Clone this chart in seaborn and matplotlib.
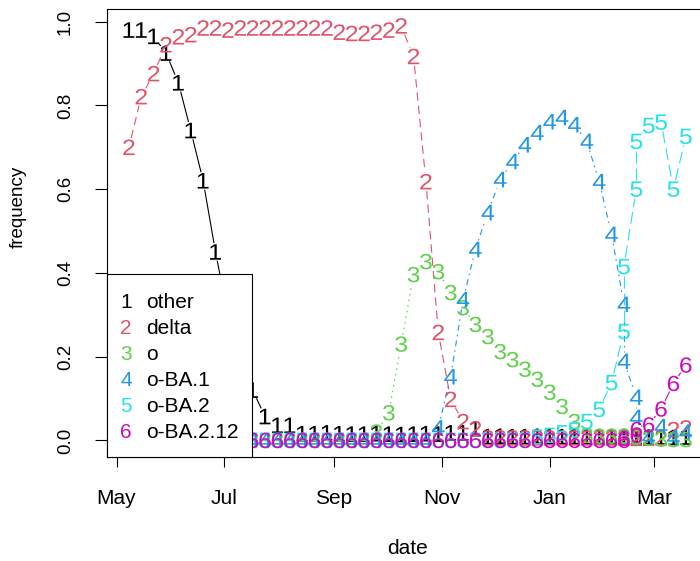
import numpy as np
import pandas as pd
import matplotlib
matplotlib.use("Agg")
import matplotlib.pyplot as plt
import matplotlib.dates as mdates
from matplotlib.markers import MarkerStyle
from matplotlib.transforms import Affine2D
from matplotlib.patches import Rectangle
import seaborn as sns

# ---------------- data ----------------
dates = [
    "2021-05-08", "2021-05-15", "2021-05-22", "2021-05-29", "2021-06-05", "2021-06-12",
    "2021-06-19", "2021-06-26", "2021-07-03", "2021-07-10", "2021-07-17", "2021-07-24",
    "2021-07-31", "2021-08-07", "2021-08-14", "2021-08-21", "2021-08-28", "2021-09-04",
    "2021-09-11", "2021-09-18", "2021-09-25", "2021-10-02", "2021-10-09", "2021-10-16",
    "2021-10-23", "2021-10-30", "2021-11-06", "2021-11-13", "2021-11-20", "2021-11-27",
    "2021-12-04", "2021-12-11", "2021-12-18", "2021-12-25", "2022-01-01", "2022-01-08",
    "2022-01-15", "2022-01-22", "2022-01-29", "2022-02-05", "2022-02-12", "2022-02-12",
    "2022-02-19", "2022-02-19", "2022-02-26", "2022-03-05", "2022-03-12", "2022-03-19",
]

other = [0.98, 0.98, 0.965, 0.925, 0.854, 0.74, 0.62, 0.45, 0.30, 0.20, 0.12, 0.057,
         0.036, 0.036, 0.016, 0.016, 0.018, 0.016, 0.015, 0.015, 0.016, 0.015, 0.014, 0.015,
         0.016, 0.015, 0.018, 0.018, 0.028, 0.009, 0.01, 0.009, 0.009, 0.01, 0.009, 0.009,
         0.009, 0.008, 0.009, 0.009, 0.009, 0.009, 0.008, 0.008, 0.008, 0.008, 0.007, 0.008]

delta = [0.70, 0.821, 0.876, 0.945, 0.964, 0.969, 0.985, 0.985, 0.98, 0.985, 0.985, 0.985,
         0.985, 0.985, 0.985, 0.985, 0.985, 0.975, 0.972, 0.972, 0.975, 0.98, 0.99, 0.917,
         0.618, 0.258, 0.098, 0.045, 0.028, 0.006, 0.006, 0.006, 0.006, 0.006, 0.006, 0.006,
         0.006, 0.006, 0.006, 0.006, 0.006, 0.006, 0.005, 0.005, 0.005, 0.006, 0.026, 0.03]

omicron = [0.0, 0.0, 0.0, 0.0, 0.0, 0.0, 0.0, 0.0, 0.0, 0.0, 0.0, 0.0,
           0.0, 0.0, 0.0, 0.0, 0.0, 0.0, 0.0, 0.0, 0.02, 0.066, 0.23, 0.396,
           0.427, 0.403, 0.353, 0.317, 0.277, 0.248, 0.212, 0.193, 0.17, 0.146, 0.115, 0.081,
           0.045, 0.012, 0.01, 0.01, 0.01, 0.01, 0.008, 0.008, 0.005, 0.003, 0.002, 0.002]

ba1 = [0.0, 0.0, 0.0, 0.0, 0.0, 0.0, 0.0, 0.0, 0.0, 0.0, 0.0, 0.0,
       0.0, 0.0, 0.0, 0.0, 0.0, 0.0, 0.0, 0.0, 0.0, 0.0, 0.0, 0.0,
       0.0, 0.03, 0.152, 0.336, 0.456, 0.544, 0.623, 0.666, 0.706, 0.735, 0.761, 0.771,
       0.754, 0.714, 0.618, 0.492, 0.325, 0.189, 0.103, 0.055, 0.008, 0.033, 0.007, 0.02]

ba2 = [0.0, 0.0, 0.0, 0.0, 0.0, 0.0, 0.0, 0.0, 0.0, 0.0, 0.0, 0.0,
       0.0, 0.0, 0.0, 0.0, 0.0, 0.0, 0.0, 0.0, 0.0, 0.0, 0.0, 0.0,
       0.0, 0.0, 0.0, 0.0, 0.0, 0.0, 0.0, 0.0, 0.0, 0.008, 0.012, 0.018,
       0.025, 0.045, 0.074, 0.138, 0.26, 0.415, 0.6, 0.714, 0.752, 0.76, 0.6, 0.726]

ba212 = [0.0, 0.0, 0.0, 0.0, 0.0, 0.0, 0.0, 0.0, 0.0, 0.0, 0.0, 0.0,
         0.0, 0.0, 0.0, 0.0, 0.0, 0.0, 0.0, 0.0, 0.0, 0.0, 0.0, 0.0,
         0.0, 0.0, 0.0, 0.0, 0.0, 0.0, 0.0, 0.0, 0.0, 0.0, 0.0, 0.0,
         0.0, 0.0, 0.0, 0.0, 0.0, 0.005, 0.012, 0.026, 0.037, 0.075, 0.136, 0.18]

series_names = ["other", "delta", "o", "o-BA.1", "o-BA.2", "o-BA.2.12"]
series_values = [other, delta, omicron, ba1, ba2, ba212]
colors = ["#000000", "#DF536B", "#61D04F", "#2297E6", "#28E2E5", "#CD0BBC"]
linestyles = ["-", (0, (6, 3.6)), (0, (1.2, 2.9)), (0, (1.2, 2.9, 4.3, 2.9)),
              (0, (8.6, 3.6)), "-"]
yticks = [0.0, 0.2, 0.4, 0.6, 0.8, 1.0]
ytick_labels = ["0.0", "0.2", "0.4", "0.6", "0.8", "1.0"]

# ---------------- style ----------------
plt.rcParams["font.family"] = ["Liberation Sans", "DejaVu Sans"]
plt.rcParams["mathtext.fontset"] = "custom"
plt.rcParams["mathtext.rm"] = "Liberation Sans"
plt.rcParams["mathtext.it"] = "Liberation Sans"
plt.rcParams["lines.scale_dashes"] = False

W, H = 700, 561
fig = plt.figure(figsize=(W / 100, H / 100), dpi=100)
ax_left, ax_right, ax_top, ax_bottom = 106.6, 708.1, 9.3, 457.0
ax = fig.add_axes([ax_left / W, (H - ax_bottom) / H,
                   (ax_right - ax_left) / W, (ax_bottom - ax_top) / H])

x = mdates.date2num(pd.to_datetime(dates))
allv = np.concatenate([np.asarray(v) for v in series_values])
xr = x.max() - x.min()
xlim = (x.min() - 0.04 * xr, x.max() + 0.04 * xr)
yr = allv.max() - allv.min()
ylim = (allv.min() - 0.04 * yr, allv.max() + 0.04 * yr)
ax.set_xlim(*xlim)
ax.set_ylim(*ylim)

# ---------------- lines with gaps around the symbols (R type="b") ----------------
gap = 9.5  # pixels
inv = ax.transData.inverted()
for k, vals in enumerate(series_values):
    pts = ax.transData.transform(np.column_stack([x, vals]))
    rows = []
    for j in range(len(pts) - 1):
        p0, p1 = pts[j], pts[j + 1]
        d = np.hypot(*(p1 - p0))
        if d > 2 * gap:
            u = (p1 - p0) / d
            a = inv.transform(p0 + gap * u)
            b = inv.transform(p1 - gap * u)
            rows.append((j, a[0], a[1]))
            rows.append((j, b[0], b[1]))
    if rows:
        seg = pd.DataFrame(rows, columns=["seg", "x", "y"])
        sns.lineplot(data=seg, x="x", y="y", units="seg", estimator=None, sort=False,
                     color=colors[k], linestyle=linestyles[k], lw=0.8, ax=ax, zorder=2)

# ---------------- digit symbols ----------------
for k, vals in enumerate(series_values):
    df = pd.DataFrame({"x": x, "y": vals})
    mk = MarkerStyle(f"${k + 1}$", transform=Affine2D().scale(1.12, 1.0))
    sns.scatterplot(data=df, x="x", y="y", marker=mk, color=colors[k], s=125,
                    linewidth=0, edgecolor="none", ax=ax, zorder=3)

ax.set_xlim(*xlim)
ax.set_ylim(*ylim)

# ---------------- axes ----------------
ax.xaxis.set_major_locator(mdates.MonthLocator(bymonth=[1, 3, 5, 7, 9, 11]))
ax.xaxis.set_major_formatter(mdates.DateFormatter("%b"))
ax.set_yticks(yticks)
ax.set_yticklabels(ytick_labels)
ax.tick_params(axis="x", length=7.2, width=0.8, pad=16, labelsize=15, colors="black")
ax.tick_params(axis="y", length=8.6, width=0.8, pad=15, labelsize=13.5, labelrotation=90,
               colors="black")
for lab in ax.get_yticklabels():
    lab.set_va("center")
for s in ax.spines.values():
    s.set_linewidth(0.8)
    s.set_color("black")

ax.set_xlabel("date", fontsize=15, va="center")
ax.xaxis.set_label_coords((408 - ax_left) / (ax_right - ax_left),
                          (ax_bottom - 548) / (ax_bottom - ax_top))
ax.set_ylabel("frequency", fontsize=13.5, va="center")
ax.yaxis.set_label_coords((18 - ax_left) / (ax_right - ax_left),
                          (ax_bottom - 207) / (ax_bottom - ax_top))

# ---------------- legend (R style: symbols + labels in a box) ----------------
aw, ah = ax_right - ax_left, ax_bottom - ax_top
ax.add_patch(Rectangle((0, 0), (252.3 - ax_left) / aw, (ax_bottom - 274.3) / ah,
                       transform=ax.transAxes, facecolor="white", edgecolor="black",
                       lw=0.8, zorder=10, clip_on=False))
for k, name in enumerate(series_names):
    yb = (ax_bottom - (308.3 + 26.0 * k)) / ah
    ax.text((126 - ax_left) / aw, yb, str(k + 1), color=colors[k], transform=ax.transAxes,
            ha="center", va="baseline", fontsize=15, zorder=11)
    ax.text((146 - ax_left) / aw, yb, name, color="black", transform=ax.transAxes,
            ha="left", va="baseline", fontsize=15, zorder=11)

fig.savefig("out.png", dpi=100)
